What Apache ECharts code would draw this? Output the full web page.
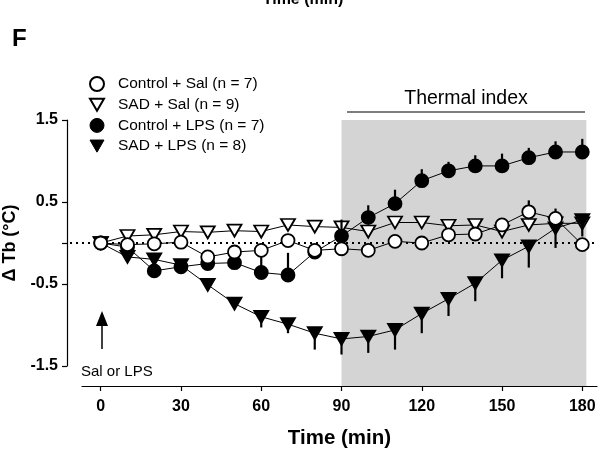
<!DOCTYPE html>
<html>
<head>
<meta charset="utf-8">
<script src="https://cdn.jsdelivr.net/npm/echarts@6/dist/echarts.min.js"></script>
<style>
html,body{margin:0;padding:0;background:#fff;}
#chart{width:601px;height:457px;}
</style>
</head>
<body>
<div id="chart"></div>
<script>
// ---- data ----
var time = [0,10,20,30,40,50,60,70,80,90,100,110,120,130,140,150,160,170,180];
var xTicks = [0,30,60,90,120,150,180];
var yTickLabels = [1.5,0.5,-0.5,-1.5];
var yTicks = [1.5,0.5,0,-0.5,-1.5];
var thermalWindow = [90,181.5];

var ctrlSal    = [0.00,-0.02,-0.01,0.01,-0.17,-0.11,-0.09,0.03,-0.09,-0.07,-0.09,0.02,0.00,0.10,0.11,0.22,0.38,0.30,-0.02];
var ctrlSalErr = [0.03,0.04,0.04,0.04,0.05,0.05,0.05,0.05,0.05,0.05,0.05,0.04,0.04,0.05,0.06,0.08,0.14,0.12,0.06];

var sadSal     = [0.00,0.085,0.10,0.14,0.13,0.15,0.14,0.22,0.20,0.19,0.14,0.25,0.25,0.21,0.22,0.14,0.22,0.24,0.24];
var sadSalErr  = [0.03,0.05,0.05,0.05,0.05,0.05,0.05,0.05,0.05,0.08,0.05,0.05,0.05,0.05,0.05,0.06,0.06,0.06,0.08];

var ctrlLps    = [0.00,-0.05,-0.34,-0.29,-0.25,-0.24,-0.36,-0.39,-0.11,0.085,0.31,0.48,0.76,0.88,0.94,0.94,1.04,1.11,1.11];
var ctrlLpsErr = [0.03,0.05,0.06,0.08,0.06,0.06,0.25,0.27,0.08,0.20,0.15,0.17,0.14,0.11,0.13,0.15,0.12,0.13,0.16];

var sadLps     = [0.00,-0.17,-0.20,-0.27,-0.51,-0.74,-0.90,-0.99,-1.10,-1.17,-1.14,-1.06,-0.86,-0.68,-0.49,-0.21,-0.04,0.18,0.28];
var sadLpsErr  = [0.03,0.05,0.12,0.05,0.05,0.06,0.13,0.11,0.20,0.19,0.20,0.24,0.24,0.21,0.22,0.22,0.26,0.24,0.20];

var names = ['Control + Sal (n = 7)','SAD + Sal (n = 9)','Control + LPS (n = 7)','SAD + LPS (n = 8)'];

// ---- build ----
var FONT = 'Arial, "Liberation Sans", Helvetica, sans-serif';
var TRI = 'path://M0,0L20,0L10,17.3Z';

function pairs(vals){ return time.map(function(t,i){ return [t, vals[i]]; }); }
function errData(vals, errs){ return time.map(function(t,i){ return [t, vals[i], errs[i]]; }); }

function lineSeries(name, vals, symbol, size, fill, z){
  return {
    name: name, type: 'line', data: pairs(vals), z: z,
    symbol: symbol, symbolSize: size, showAllSymbol: true,
    lineStyle: {color: '#000', width: 1},
    itemStyle: {color: fill, borderColor: '#000', borderWidth: 1.8},
    emphasis: {disabled: true}, animation: false
  };
}
function errSeries(vals, errs, dir, z){
  return {
    type: 'custom', z: z, silent: true, animation: false,
    data: errData(vals, errs),
    renderItem: function(params, api){
      var t = api.value(0), v = api.value(1), e = api.value(2);
      var p1 = api.coord([t, v]);
      var p2 = api.coord([t, v + dir*e]);
      return {type:'line', shape:{x1:p1[0],y1:p1[1],x2:p2[0],y2:p2[1]},
              style:{stroke:'#000', lineWidth:2.2}};
    }
  };
}

var chart = echarts.init(document.getElementById('chart'), null, {renderer:'canvas'});
var option = {
  animation: false,
  backgroundColor: '#fff',
  grid: {left: 82, right: 4, top: 120, height: 246, containLabel: false, outerBoundsMode: 'none'},
  xAxis: {
    type: 'value', min: -7, max: 185.5, offset: 20,
    axisLine: {show: true, onZero: false, lineStyle: {color: '#000', width: 1.2}},
    axisTick: {show: true, length: 5, customValues: xTicks, lineStyle:{color:'#000', width:1.2}},
    axisLabel: {customValues: xTicks, fontFamily: FONT, fontWeight: 'bold', fontSize: 16, color: '#000', margin: 13},
    splitLine: {show: false},
    name: 'Time (min)', nameLocation: 'middle', nameGap: 42,
    nameTextStyle: {fontFamily: FONT, fontWeight: 'bold', fontSize: 20.5, color: '#000'}
  },
  yAxis: {
    type: 'value', min: -1.5, max: 1.5, interval: 0.5, offset: 15,
    axisLine: {show: true, onZero: false, lineStyle: {color: '#000', width: 1.2}},
    axisTick: {show: true, length: 5, customValues: yTicks, lineStyle:{color:'#000', width:1.2}},
    axisLabel: {customValues: yTickLabels, fontFamily: FONT, fontWeight: 'bold', fontSize: 16, color: '#000', margin: 9,
                formatter: function(v){ return v.toFixed(1); }},
    splitLine: {show: false},
    name: 'Δ Tb (°C)', nameLocation: 'middle', nameGap: 37, nameRotate: 90,
    nameTextStyle: {fontFamily: FONT, fontWeight: 'bold', fontSize: 18, color: '#000'}
  },
  legend: {
    orient: 'vertical', left: 89, top: 76, padding: 0, itemWidth: 14, itemHeight: 14, itemGap: 4.7,
    textStyle: {fontFamily: FONT, fontSize: 15.5, color: '#000', padding: [0,0,0,9]},
    selectedMode: false,
    data: [
      {name: names[0], icon: 'circle', itemStyle:{color:'#fff', borderColor:'#000', borderWidth:2}},
      {name: names[1], icon: TRI, itemStyle:{color:'#fff', borderColor:'#000', borderWidth:2}},
      {name: names[2], icon: 'circle', itemStyle:{color:'#000', borderColor:'#000', borderWidth:1}},
      {name: names[3], icon: TRI, itemStyle:{color:'#000', borderColor:'#000', borderWidth:1}}
    ]
  },
  graphic: [
    {type:'text', left: 12, top: 27, style:{text:'F', font:'bold 24px ' + FONT, fill:'#000'}},
    {type:'text', x: 303, y: 8, style:{text:'Time (min)', font:'bold 16px ' + FONT, fill:'#000', textAlign:'center', textVerticalAlign:'bottom'}},
    {type:'text', x: 466, y: 99, style:{text:'Thermal index', font:'19.5px ' + FONT, fill:'#000', textAlign:'center', textVerticalAlign:'middle'}},
    {type:'line', shape:{x1:347, y1:112, x2:585, y2:112}, style:{stroke:'#000', lineWidth:1.2}},
    {type:'text', x: 81, y: 372, style:{text:'Sal or LPS', font:'15px ' + FONT, fill:'#000', textAlign:'left', textVerticalAlign:'middle'}},
    {type:'line', shape:{x1:102, y1:349, x2:102, y2:324}, style:{stroke:'#000', lineWidth:1.5}},
    {type:'polygon', shape:{points:[[102,311],[96,326],[108,326]]}, style:{fill:'#000'}}
  ],
  series: [
    { // thermal index window shading
      type: 'custom', z: 0, silent: true, animation: false,
      data: [thermalWindow],
      renderItem: function(params, api){
        var p1 = api.coord([api.value(0), 1.5]);
        var p2 = api.coord([api.value(1), -1.5]);
        return {type:'rect', shape:{x:p1[0], y:p1[1], width:p2[0]-p1[0], height:p2[1]-p1[1]+20},
                style:{fill:'#d4d4d4'}};
      }
    },
    { // zero reference (dotted)
      type: 'custom', z: 1, silent: true, animation: false,
      data: [[0]],
      renderItem: function(params, api){
        var p = api.coord([0, api.value(0)]);
        var x1 = params.coordSys.x - 12, x2 = params.coordSys.x + params.coordSys.width;
        return {type:'line', shape:{x1:x1, y1:p[1], x2:x2, y2:p[1]},
                style:{stroke:'#000', lineWidth:2, lineDash:[2,4]}};
      }
    },
    errSeries(sadSal, sadSalErr, 1, 2),
    lineSeries(names[1], sadSal, TRI, [14,12], '#fff', 3),
    errSeries(sadLps, sadLpsErr, -1, 4),
    lineSeries(names[3], sadLps, TRI, [14,12], '#000', 5),
    errSeries(ctrlLps, ctrlLpsErr, 1, 6),
    lineSeries(names[2], ctrlLps, 'circle', 13, '#000', 7),
    errSeries(ctrlSal, ctrlSalErr, 1, 8),
    lineSeries(names[0], ctrlSal, 'circle', 13, '#fff', 9)
  ]
};
chart.setOption(option);
</script>
</body>
</html>
